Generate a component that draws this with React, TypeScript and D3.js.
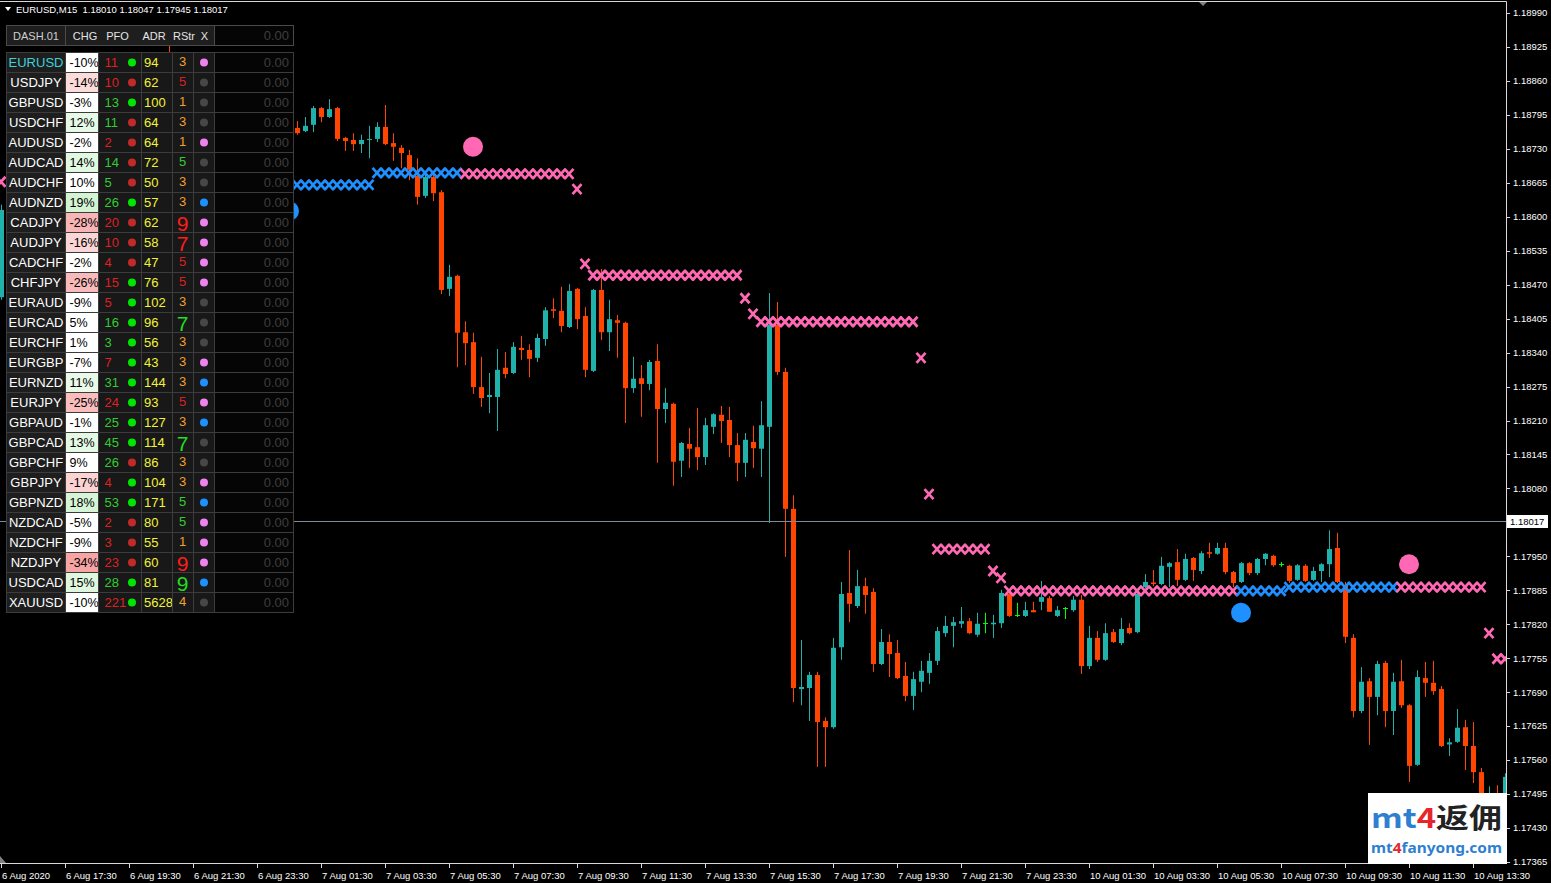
import React from 'react';
import * as d3 from 'd3';

const W = 1551;
const H = 883;
const CHART_R = 1506;
const CHART_B = 863;
const FONT = "'Liberation Sans', Arial, sans-serif";

// [bar, open, high, low, close]
const candles: [number, number, number, number, number][] = [
  [0, 1.18446, 1.18623, 1.18441, 1.18613],
  [21, 1.18910, 1.18938, 1.18862, 1.18871],
  [37, 1.18770, 1.18783, 1.18757, 1.18760],
  [38, 1.18764, 1.18791, 1.18762, 1.18774],
  [39, 1.18776, 1.18812, 1.18762, 1.18808],
  [40, 1.18808, 1.18810, 1.18781, 1.18791],
  [41, 1.18791, 1.18825, 1.18789, 1.18806],
  [42, 1.18808, 1.18810, 1.18745, 1.18749],
  [43, 1.18751, 1.18753, 1.18726, 1.18745],
  [44, 1.18747, 1.18760, 1.18726, 1.18739],
  [45, 1.18739, 1.18757, 1.18722, 1.18747],
  [46, 1.18747, 1.18774, 1.18712, 1.18749],
  [47, 1.18749, 1.18781, 1.18743, 1.18772],
  [48, 1.18772, 1.18814, 1.18737, 1.18739],
  [49, 1.18741, 1.18760, 1.18707, 1.18734],
  [50, 1.18732, 1.18737, 1.18693, 1.18722],
  [51, 1.18718, 1.18728, 1.18670, 1.18690],
  [52, 1.18678, 1.18712, 1.18623, 1.18638],
  [53, 1.18640, 1.18680, 1.18636, 1.18676],
  [54, 1.18676, 1.18680, 1.18630, 1.18645],
  [55, 1.18647, 1.18651, 1.18452, 1.18460],
  [56, 1.18462, 1.18508, 1.18448, 1.18485],
  [57, 1.18487, 1.18489, 1.18312, 1.18378],
  [58, 1.18379, 1.18400, 1.18316, 1.18358],
  [59, 1.18360, 1.18378, 1.18261, 1.18274],
  [60, 1.18274, 1.18332, 1.18236, 1.18253],
  [61, 1.18255, 1.18301, 1.18224, 1.18259],
  [62, 1.18255, 1.18347, 1.18190, 1.18307],
  [63, 1.18311, 1.18341, 1.18291, 1.18299],
  [64, 1.18301, 1.18360, 1.18299, 1.18351],
  [65, 1.18349, 1.18372, 1.18326, 1.18345],
  [66, 1.18345, 1.18356, 1.18293, 1.18328],
  [67, 1.18330, 1.18376, 1.18322, 1.18368],
  [68, 1.18366, 1.18427, 1.18353, 1.18421],
  [69, 1.18423, 1.18444, 1.18406, 1.18420],
  [70, 1.18420, 1.18466, 1.18379, 1.18391],
  [71, 1.18389, 1.18471, 1.18387, 1.18458],
  [72, 1.18462, 1.18464, 1.18385, 1.18404],
  [73, 1.18410, 1.18427, 1.18293, 1.18307],
  [74, 1.18305, 1.18462, 1.18303, 1.18460],
  [75, 1.18460, 1.18500, 1.18364, 1.18379],
  [76, 1.18379, 1.18441, 1.18343, 1.18404],
  [77, 1.18402, 1.18412, 1.18330, 1.18397],
  [78, 1.18397, 1.18399, 1.18205, 1.18272],
  [79, 1.18272, 1.18332, 1.18263, 1.18290],
  [80, 1.18291, 1.18316, 1.18217, 1.18280],
  [81, 1.18280, 1.18326, 1.18268, 1.18322],
  [82, 1.18324, 1.18356, 1.18129, 1.18232],
  [83, 1.18232, 1.18272, 1.18205, 1.18244],
  [84, 1.18242, 1.18244, 1.18085, 1.18131],
  [85, 1.18133, 1.18169, 1.18102, 1.18167],
  [86, 1.18165, 1.18196, 1.18119, 1.18156],
  [87, 1.18159, 1.18234, 1.18115, 1.18140],
  [88, 1.18140, 1.18215, 1.18125, 1.18201],
  [89, 1.18198, 1.18224, 1.18184, 1.18222],
  [90, 1.18221, 1.18238, 1.18167, 1.18209],
  [91, 1.18211, 1.18236, 1.18140, 1.18163],
  [92, 1.18163, 1.18186, 1.18094, 1.18129],
  [93, 1.18129, 1.18186, 1.18102, 1.18173],
  [94, 1.18169, 1.18200, 1.18119, 1.18157],
  [95, 1.18156, 1.18247, 1.18102, 1.18201],
  [96, 1.18198, 1.18454, 1.18014, 1.18393],
  [97, 1.18393, 1.18437, 1.18297, 1.18303],
  [98, 1.18303, 1.18311, 1.17949, 1.18041],
  [99, 1.18041, 1.18067, 1.17671, 1.17698],
  [100, 1.17696, 1.17790, 1.17665, 1.17700],
  [101, 1.17698, 1.17729, 1.17635, 1.17723],
  [102, 1.17723, 1.17729, 1.17547, 1.17633],
  [103, 1.17635, 1.17642, 1.17547, 1.17623],
  [104, 1.17623, 1.17794, 1.17620, 1.17775],
  [105, 1.17776, 1.17901, 1.17752, 1.17878],
  [106, 1.17880, 1.17962, 1.17824, 1.17859],
  [107, 1.17855, 1.17924, 1.17851, 1.17893],
  [108, 1.17893, 1.17909, 1.17840, 1.17876],
  [109, 1.17882, 1.17889, 1.17729, 1.17744],
  [110, 1.17744, 1.17811, 1.17742, 1.17786],
  [111, 1.17786, 1.17801, 1.17719, 1.17763],
  [112, 1.17765, 1.17790, 1.17715, 1.17717],
  [113, 1.17721, 1.17748, 1.17673, 1.17683],
  [114, 1.17683, 1.17729, 1.17656, 1.17715],
  [115, 1.17710, 1.17750, 1.17690, 1.17731],
  [116, 1.17727, 1.17765, 1.17706, 1.17750],
  [117, 1.17750, 1.17815, 1.17742, 1.17807],
  [118, 1.17803, 1.17836, 1.17796, 1.17817],
  [119, 1.17817, 1.17834, 1.17776, 1.17824],
  [120, 1.17821, 1.17853, 1.17813, 1.17826],
  [121, 1.17826, 1.17832, 1.17801, 1.17803],
  [122, 1.17800, 1.17842, 1.17796, 1.17821],
  [123, 1.17822, 1.17842, 1.17803, 1.17822],
  [124, 1.17820, 1.17838, 1.17794, 1.17823],
  [125, 1.17822, 1.17886, 1.17813, 1.17880],
  [126, 1.17878, 1.17886, 1.17834, 1.17836],
  [127, 1.17838, 1.17861, 1.17834, 1.17838],
  [128, 1.17836, 1.17863, 1.17834, 1.17847],
  [129, 1.17847, 1.17863, 1.17843, 1.17843],
  [130, 1.17863, 1.17903, 1.17847, 1.17872],
  [131, 1.17870, 1.17874, 1.17844, 1.17844],
  [132, 1.17836, 1.17855, 1.17834, 1.17847],
  [133, 1.17851, 1.17853, 1.17830, 1.17851],
  [134, 1.17847, 1.17874, 1.17844, 1.17867],
  [135, 1.17867, 1.17876, 1.17725, 1.17740],
  [136, 1.17740, 1.17817, 1.17734, 1.17794],
  [137, 1.17794, 1.17807, 1.17748, 1.17752],
  [138, 1.17752, 1.17822, 1.17750, 1.17803],
  [139, 1.17805, 1.17811, 1.17784, 1.17786],
  [140, 1.17784, 1.17832, 1.17780, 1.17811],
  [141, 1.17813, 1.17822, 1.17801, 1.17803],
  [142, 1.17805, 1.17880, 1.17803, 1.17878],
  [143, 1.17891, 1.17916, 1.17889, 1.17901],
  [144, 1.17900, 1.17924, 1.17893, 1.17897],
  [145, 1.17897, 1.17949, 1.17895, 1.17932],
  [146, 1.17930, 1.17939, 1.17891, 1.17937],
  [147, 1.17939, 1.17964, 1.17893, 1.17905],
  [148, 1.17905, 1.17955, 1.17903, 1.17945],
  [149, 1.17947, 1.17949, 1.17903, 1.17924],
  [150, 1.17922, 1.17960, 1.17916, 1.17956],
  [151, 1.17958, 1.17976, 1.17947, 1.17955],
  [152, 1.17955, 1.17976, 1.17953, 1.17966],
  [153, 1.17966, 1.17976, 1.17916, 1.17920],
  [154, 1.17920, 1.17922, 1.17891, 1.17899],
  [155, 1.17901, 1.17939, 1.17899, 1.17937],
  [156, 1.17937, 1.17939, 1.17914, 1.17918],
  [157, 1.17918, 1.17947, 1.17914, 1.17945],
  [158, 1.17945, 1.17956, 1.17933, 1.17955],
  [159, 1.17951, 1.17953, 1.17930, 1.17933],
  [160, 1.17935, 1.17939, 1.17930, 1.17935],
  [161, 1.17932, 1.17934, 1.17899, 1.17903],
  [162, 1.17905, 1.17935, 1.17903, 1.17933],
  [163, 1.17932, 1.17935, 1.17901, 1.17903],
  [164, 1.17905, 1.17930, 1.17903, 1.17922],
  [165, 1.17922, 1.17937, 1.17901, 1.17935],
  [166, 1.17935, 1.18000, 1.17910, 1.17964],
  [167, 1.17966, 1.17995, 1.17899, 1.17901],
  [168, 1.17895, 1.17901, 1.17784, 1.17796],
  [169, 1.17794, 1.17801, 1.17642, 1.17654],
  [170, 1.17654, 1.17738, 1.17650, 1.17710],
  [171, 1.17711, 1.17717, 1.17589, 1.17681],
  [172, 1.17681, 1.17750, 1.17646, 1.17744],
  [173, 1.17746, 1.17750, 1.17623, 1.17654],
  [174, 1.17654, 1.17727, 1.17608, 1.17710],
  [175, 1.17711, 1.17752, 1.17660, 1.17665],
  [176, 1.17665, 1.17667, 1.17518, 1.17549],
  [177, 1.17551, 1.17732, 1.17549, 1.17719],
  [178, 1.17717, 1.17748, 1.17681, 1.17708],
  [179, 1.17708, 1.17750, 1.17685, 1.17692],
  [180, 1.17696, 1.17702, 1.17585, 1.17587],
  [181, 1.17590, 1.17602, 1.17568, 1.17594],
  [182, 1.17595, 1.17658, 1.17593, 1.17622],
  [183, 1.17623, 1.17637, 1.17541, 1.17587],
  [184, 1.17587, 1.17633, 1.17516, 1.17537],
  [185, 1.17537, 1.17545, 1.17484, 1.17493],
  [186, 1.17488, 1.17510, 1.17478, 1.17497],
  [187, 1.17497, 1.17512, 1.17470, 1.17480],
  [188, 1.17480, 1.17535, 1.17475, 1.17528],
];

// signal chains: [firstBar, lastBar, price, colour key]
const chains: [number, number, number, string][] = [
  [30, 46, 1.18661, 'blue'],
  [47, 57, 1.18684, 'blue'],
  [58, 71, 1.18682, 'pink'],
  [74, 92, 1.18488, 'pink'],
  [95, 114, 1.18399, 'pink'],
  [117, 123, 1.17964, 'pink'],
  [126, 154, 1.17884, 'pink'],
  [155, 160, 1.17884, 'blue'],
  [161, 174, 1.17891, 'blue'],
  [175, 185, 1.17891, 'pink'],
];

// isolated crosses: [bar, price]
const crosses: [number, number][] = [
  [0, 1.18667], [72, 1.18653], [73, 1.18510], [93, 1.18444], [94, 1.18414],
  [115, 1.18330], [116, 1.18069], [124, 1.17922], [125, 1.17909],
  [186, 1.17803], [187, 1.17754], [188, 1.17754],
];

// big dots: [bar, price, colour key]
const dots: [number, number, string][] = [
  [36, 1.18611, 'blue'],
  [59, 1.18734, 'pink'],
  [155, 1.17842, 'blue'],
  [176, 1.17935, 'pink'],
];

const priceTicks = [
  1.18990, 1.18925, 1.18860, 1.18795, 1.18730, 1.18665, 1.18600, 1.18535, 1.18470,
  1.18405, 1.18340, 1.18275, 1.18210, 1.18145, 1.18080, 1.18015, 1.17950, 1.17885,
  1.17820, 1.17755, 1.17690, 1.17625, 1.17560, 1.17495, 1.17430, 1.17365,
];
const hiddenPriceTick = 1.18015; // covered by the current price label

const timeTickBars = [0, 8, 16, 24, 32, 40, 48, 56, 64, 72, 80, 88, 96, 104, 112, 120, 128, 136, 144, 152, 160, 168, 176, 184];
const timeTickLabels = [
  '6 Aug 2020', '6 Aug 17:30', '6 Aug 19:30', '6 Aug 21:30', '6 Aug 23:30',
  '7 Aug 01:30', '7 Aug 03:30', '7 Aug 05:30', '7 Aug 07:30', '7 Aug 09:30',
  '7 Aug 11:30', '7 Aug 13:30', '7 Aug 15:30', '7 Aug 17:30', '7 Aug 19:30',
  '7 Aug 21:30', '7 Aug 23:30', '10 Aug 01:30', '10 Aug 03:30', '10 Aug 05:30',
  '10 Aug 07:30', '10 Aug 09:30', '10 Aug 11:30', '10 Aug 13:30',
];

const lastPrice = 1.18017;
const titleText = 'EURUSD,M15  1.18010 1.18047 1.17945 1.18017';

// dashboard
const dashHeaders = ['CHG', 'PFO', 'ADR', 'RStr', 'X'];
const symbols = ['EURUSD', 'USDJPY', 'GBPUSD', 'USDCHF', 'AUDUSD', 'AUDCAD', 'AUDCHF', 'AUDNZD', 'CADJPY', 'AUDJPY', 'CADCHF', 'CHFJPY', 'EURAUD', 'EURCAD', 'EURCHF', 'EURGBP', 'EURNZD', 'EURJPY', 'GBPAUD', 'GBPCAD', 'GBPCHF', 'GBPJPY', 'GBPNZD', 'NZDCAD', 'NZDCHF', 'NZDJPY', 'USDCAD', 'XAUUSD'];
const chgValues = [-10, -14, -3, 12, -2, 14, 10, 19, -28, -16, -2, -26, -9, 5, 1, -7, 11, -25, -1, 13, 9, -17, 18, -5, -9, -34, 15, -10];
const pfoValues = [11, 10, 13, 11, 2, 14, 5, 26, 20, 10, 4, 15, 5, 16, 3, 7, 31, 24, 25, 45, 26, 4, 53, 2, 3, 23, 28, 221];
const pfoTone = ['r', 'r', 'g', 'g', 'r', 'g', 'g', 'g', 'r', 'r', 'r', 'r', 'r', 'g', 'g', 'r', 'g', 'r', 'g', 'g', 'g', 'r', 'g', 'r', 'r', 'r', 'g', 'r'];
const pfoDot = ['g', 'r', 'g', 'r', 'r', 'r', 'r', 'g', 'r', 'r', 'r', 'g', 'g', 'g', 'g', 'g', 'g', 'g', 'g', 'g', 'r', 'g', 'g', 'r', 'r', 'r', 'g', 'g'];
const adrValues = [94, 62, 100, 64, 64, 72, 50, 57, 62, 58, 47, 76, 102, 96, 56, 43, 144, 93, 127, 114, 86, 104, 171, 80, 55, 60, 81, 5628];
const rstrValues = [3, 5, 1, 3, 1, 5, 3, 3, 9, 7, 5, 5, 3, 7, 3, 3, 3, 5, 3, 7, 3, 3, 5, 5, 1, 9, 9, 4];
const rstrTone = ['o', 'r', 'o', 'o', 'o', 'g', 'o', 'o', 'R', 'R', 'r', 'r', 'o', 'G', 'o', 'o', 'o', 'r', 'o', 'G', 'o', 'o', 'g', 'g', 'o', 'R', 'G', 'o'];
const xDot = ['v', 'n', 'n', 'n', 'v', 'n', 'n', 'b', 'v', 'v', 'v', 'v', 'n', 'n', 'n', 'v', 'b', 'v', 'b', 'n', 'n', 'v', 'b', 'v', 'v', 'v', 'b', 'n'];

const COLORS: Record<string, string> = {
  up: '#20b2aa',
  down: '#ff4500',
  doji: '#00ff00',
  pink: '#ff69b4',
  blue: '#1e90ff',
};

const xScale = d3.scaleLinear().domain([0, 188]).range([1, 1505]);
const yScale = d3.scaleLinear().domain([1.17365, 1.18990]).range([862, 13]);

const pinkScale = d3.scaleLinear<string>().domain([10, 34]).range(['#fde6e6', '#f6a4a4']).clamp(true);
const greenScale = d3.scaleLinear<string>().domain([10, 19]).range(['#ecfbec', '#d3f4d3']).clamp(true);
const chgBg = (v: number) => (v < -10 ? pinkScale(-v) : v > 10 ? greenScale(v) : '#ffffff');

const toneColor: Record<string, string> = {
  r: '#dc2222', g: '#33cc33', o: '#f0a030', R: '#ff1c1c', G: '#22dd22',
};
const dotColor: Record<string, string> = { g: '#00e600', r: '#c22a2a' };
const xDotColor: Record<string, string> = { v: '#ee82ee', n: '#474747', b: '#1e90ff' };

function Cross({ x, y, color }: { x: number; y: number; color: string }) {
  return (
    <path
      d={`M${x - 4.5},${y - 5}L${x + 4.5},${y + 5}M${x - 4.5},${y + 5}L${x + 4.5},${y - 5}`}
      stroke={color}
      strokeWidth={2.7}
      fill="none"
    />
  );
}

function Candles() {
  return (
    <g>
      {candles.map(([i, o, h, l, c]) => {
        const x = Math.round(xScale(i));
        const col = c > o ? COLORS.up : c < o ? COLORS.down : COLORS.doji;
        const yTop = yScale(Math.max(o, c));
        const yBot = yScale(Math.min(o, c));
        return (
          <g key={i}>
            <line x1={x + 0.5} x2={x + 0.5} y1={yScale(h)} y2={yScale(l)} stroke={col} strokeWidth={1} />
            {c === o ? (
              <line x1={x - 2} x2={x + 3} y1={Math.round(yTop) + 0.5} y2={Math.round(yTop) + 0.5} stroke={col} strokeWidth={1} />
            ) : (
              <rect x={x - 2} y={yTop} width={5} height={Math.max(1, yBot - yTop)} fill={col} />
            )}
          </g>
        );
      })}
    </g>
  );
}

function Signals() {
  return (
    <g>
      {chains.map(([a, b, p, key], k) => (
        <g key={`c${k}`}>
          {d3.range(a, b + 1).map((i) => (
            <Cross key={i} x={xScale(i)} y={yScale(p)} color={COLORS[key]} />
          ))}
        </g>
      ))}
      {crosses.map(([i, p], k) => (
        <Cross key={`x${k}`} x={xScale(i)} y={yScale(p)} color={COLORS.pink} />
      ))}
      {dots.map(([i, p, key], k) => (
        <circle key={`d${k}`} cx={xScale(i)} cy={yScale(p)} r={10} fill={COLORS[key]} />
      ))}
    </g>
  );
}

function Dashboard() {
  const cols = { sym: [6.5, 65.5], chg: [65.5, 98.5], pfo: [98.5, 141.5], adr: [141.5, 172.5], rstr: [172.5, 193.5], x: [193.5, 214.5], val: [214.5, 293.5] };
  const headerX = [85, 117.5, 154, 184, 204.5];
  const border = '#3c3c3c';
  const rowTop = 52.5;
  const rowH = 20;
  return (
    <g fontFamily={FONT}>
      <rect x={6.5} y={25.5} width={59} height={20} fill="#1e1e1e" stroke="#4a4a4a" />
      <text x={36} y={39.5} fontSize={11} fill="#cfcfcf" textAnchor="middle">DASH.01</text>
      <rect x={65.5} y={25.5} width={149} height={20} fill="#1e1e1e" stroke="#4a4a4a" />
      {dashHeaders.map((h, k) => (
        <text key={h} x={headerX[k]} y={39.5} fontSize={11} fill="#e4e4e4" textAnchor="middle">{h}</text>
      ))}
      <rect x={214.5} y={25.5} width={79} height={20} fill="#050505" stroke="#4a4a4a" />
      <text x={289} y={40} fontSize={13} fill="#3e3e3e" textAnchor="end">0.00</text>

      {symbols.map((s, k) => {
        const y0 = rowTop + k * rowH;
        const big = rstrTone[k] === 'R' || rstrTone[k] === 'G';
        return (
          <g key={s}>
            <rect x={cols.sym[0]} y={y0} width={cols.sym[1] - cols.sym[0]} height={rowH} fill="#1e1e1e" stroke={border} />
            <text x={36} y={y0 + 14.5} fontSize={13} fill={k === 0 ? '#3cd2d8' : '#ffffff'} textAnchor="middle">{s}</text>
            <rect x={cols.chg[0]} y={y0} width={cols.chg[1] - cols.chg[0]} height={rowH} fill={chgBg(chgValues[k])} stroke={border} />
            <text x={69.5} y={y0 + 14} fontSize={12.5} fill="#000000">{`${chgValues[k]}%`}</text>
            <rect x={cols.pfo[0]} y={y0} width={cols.pfo[1] - cols.pfo[0]} height={rowH} fill="#181818" stroke={border} />
            <text x={104.5} y={y0 + 14.5} fontSize={13} fill={toneColor[pfoTone[k]]}>{pfoValues[k]}</text>
            <circle cx={132} cy={y0 + 10} r={4} fill={dotColor[pfoDot[k]]} />
            <rect x={cols.adr[0]} y={y0} width={cols.adr[1] - cols.adr[0]} height={rowH} fill="#181818" stroke={border} />
            <text x={144} y={y0 + 14.5} fontSize={13} fill="#f2f23a">{adrValues[k]}</text>
            <rect x={cols.rstr[0]} y={y0} width={cols.rstr[1] - cols.rstr[0]} height={rowH} fill="#181818" stroke={border} />
            <text x={182.5} y={big ? y0 + 18.5 : y0 + 13} fontSize={big ? 21 : 13} fill={toneColor[rstrTone[k]]} textAnchor="middle">{rstrValues[k]}</text>
            <rect x={cols.x[0]} y={y0} width={cols.x[1] - cols.x[0]} height={rowH} fill="#181818" stroke={border} />
            <circle cx={204} cy={y0 + 10} r={4} fill={xDotColor[xDot[k]]} />
            <rect x={cols.val[0]} y={y0} width={cols.val[1] - cols.val[0]} height={rowH} fill="#050505" stroke={border} />
            <text x={289} y={y0 + 14.5} fontSize={13} fill="#3e3e3e" textAnchor="end">0.00</text>
          </g>
        );
      })}
    </g>
  );
}

function Watermark() {
  return (
    <g>
      <rect x={1368} y={793} width={139} height={71} fill="#ffffff" />
      <text x={1371} y={828} fontSize={27} fontWeight="bold" fontFamily="'Noto Sans CJK SC', sans-serif" textLength={131} lengthAdjust="spacingAndGlyphs">
        <tspan fill="#2f7fd0">mt</tspan>
        <tspan fill="#e5262b">4</tspan>
        <tspan fill="#222222">返佣</tspan>
      </text>
      <text x={1371} y={853} fontSize={14.5} fontWeight="bold" fontFamily="'Noto Sans', sans-serif" textLength={131} lengthAdjust="spacingAndGlyphs">
        <tspan fill="#2f7fd0">mt</tspan>
        <tspan fill="#e5262b">4</tspan>
        <tspan fill="#2f7fd0">fanyong.com</tspan>
      </text>
    </g>
  );
}

export default function App() {
  const yLast = Math.round(yScale(lastPrice)) + 0.5;
  return (
    <svg width={W} height={H} style={{ position: 'absolute', left: 0, top: 0, display: 'block', background: '#000000' }}>
      <defs>
        <clipPath id="plot">
          <rect x={0} y={2} width={CHART_R} height={CHART_B - 2} />
        </clipPath>
      </defs>
      <rect x={0} y={0} width={W} height={H} fill="#000000" />

      <g clipPath="url(#plot)">
        <Candles />
        <line x1={0} x2={CHART_R} y1={yLast} y2={yLast} stroke="#7d8b99" strokeWidth={1} />
        <Signals />
      </g>

      <path d={`M0,1.5H${CHART_R + 0.5}V${CHART_B + 0.5}H0`} stroke="#d8d8d8" strokeWidth={1} fill="none" />
      <path d="M1199,2L1207,2L1203,6Z" fill="#808080" />
      <path d="M0,856L0,863L6,863Z" fill="#808080" />

      <g fontFamily={FONT} fontSize={9.5} fill="#ffffff">
        {priceTicks.map((p) => (
          <g key={p}>
            <line x1={CHART_R} x2={CHART_R + 4} y1={Math.round(yScale(p)) + 0.5} y2={Math.round(yScale(p)) + 0.5} stroke="#d8d8d8" />
            {p !== hiddenPriceTick && (
              <text x={1513} y={yScale(p)} dy="0.35em">{p.toFixed(5)}</text>
            )}
          </g>
        ))}
        <rect x={1507} y={yLast - 6.5} width={41} height={13} fill="#ffffff" />
        <text x={1510} y={yLast} dy="0.35em" fill="#000000">{lastPrice.toFixed(5)}</text>
      </g>

      <g fontFamily={FONT} fontSize={9.5} fill="#ffffff">
        {timeTickBars.map((b, k) => (
          <g key={b}>
            <line x1={Math.round(xScale(b)) + 0.5} x2={Math.round(xScale(b)) + 0.5} y1={CHART_B} y2={CHART_B + 5} stroke="#d8d8d8" />
            <text x={xScale(b) + 1} y={879}>{timeTickLabels[k]}</text>
          </g>
        ))}
      </g>

      <Watermark />

      <path d="M5,7L11,7L8,11Z" fill="#ffffff" />
      <text x={16} y={13} fontFamily={FONT} fontSize={9.5} fill="#ffffff" style={{ whiteSpace: 'pre' }}>{titleText}</text>

      <Dashboard />
    </svg>
  );
}
